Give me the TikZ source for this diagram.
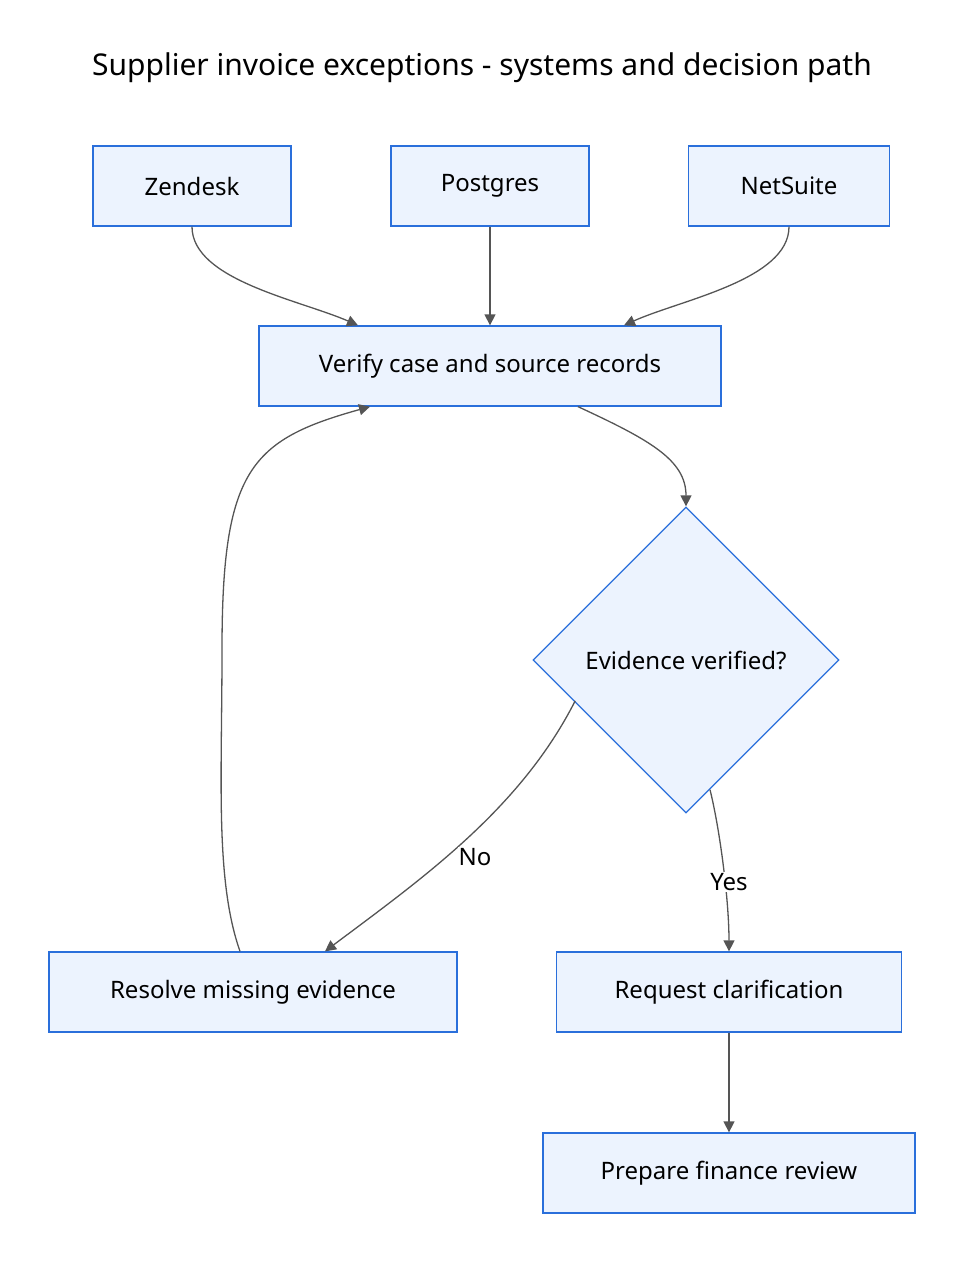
\documentclass[tikz,border=0pt]{standalone}
\usepackage{fontspec}
\setmainfont{Noto Sans}
\usetikzlibrary{shapes.geometric,arrows.meta}
\definecolor{bfill}{HTML}{ECF3FE}
\definecolor{bline}{HTML}{2A6FDB}
\definecolor{aline}{HTML}{555555}
\begin{document}
\begin{tikzpicture}[x=1pt,y=-1pt,
  box/.style={draw=bline,fill=bfill,line width=1.3pt,font=\fontsize{24}{28}\selectfont,inner sep=0pt},
  arr/.style={draw=aline,line width=1.3pt,-{Triangle[length=11pt,width=11pt]}},
  lab/.style={font=\fontsize{24}{28}\selectfont,fill=white,inner sep=1pt}]
\useasboundingbox (0,0) rectangle (964,1262);
\node[font=\fontsize{30}{34}\selectfont] (title) at (482,68) {Supplier invoice exceptions - systems and decision path};
\node[box,minimum width=198pt,minimum height=80pt] (z) at (192,186) {Zendesk};
\node[box,minimum width=198pt,minimum height=80pt] (p) at (490,186) {Postgres};
\node[box,minimum width=201pt,minimum height=80pt] (n) at (789,186) {NetSuite};
\node[box,minimum width=462pt,minimum height=80pt] (v) at (490,366) {Verify case and source records};
\node[box,diamond,minimum width=306pt,minimum height=306pt] (d) at (686,660) {Evidence verified?};
\node[box,minimum width=408pt,minimum height=80pt] (r) at (253,992) {Resolve missing evidence};
\node[box,minimum width=345pt,minimum height=80pt] (q) at (729,992) {Request clarification};
\node[box,minimum width=372pt,minimum height=80pt] (f) at (729,1173) {Prepare finance review};
\draw[arr] (z.south) .. controls (192,280) and (300,300) .. (v.north -| 358,0);
\draw[arr] (p) -- (v);
\draw[arr] (n.south) .. controls (789,280) and (680,300) .. (v.north -| 624,0);
\draw[arr] (v.south -| 578,0) .. controls (650,440) and (686,460) .. (d.north);
\draw[arr] (d.south west) ++(-34,-36) coordinate (dn) (dn) .. controls (520,810) and (420,880) .. (r.north -| 325,0);
\node[lab] at (475,857) {No};
\draw[arr] (d.south) ++(24,-24) coordinate (dy) (dy) .. controls (720,830) and (729,900) .. (q.north);
\node[lab] at (729,882) {Yes};
\draw[arr] (r.north -| 240,0) .. controls (215,880) and (222,780) .. (222,650) .. controls (222,470) and (250,440) .. (v.south -| 370,0);
\draw[arr] (q) -- (f);
\end{tikzpicture}
\end{document}
